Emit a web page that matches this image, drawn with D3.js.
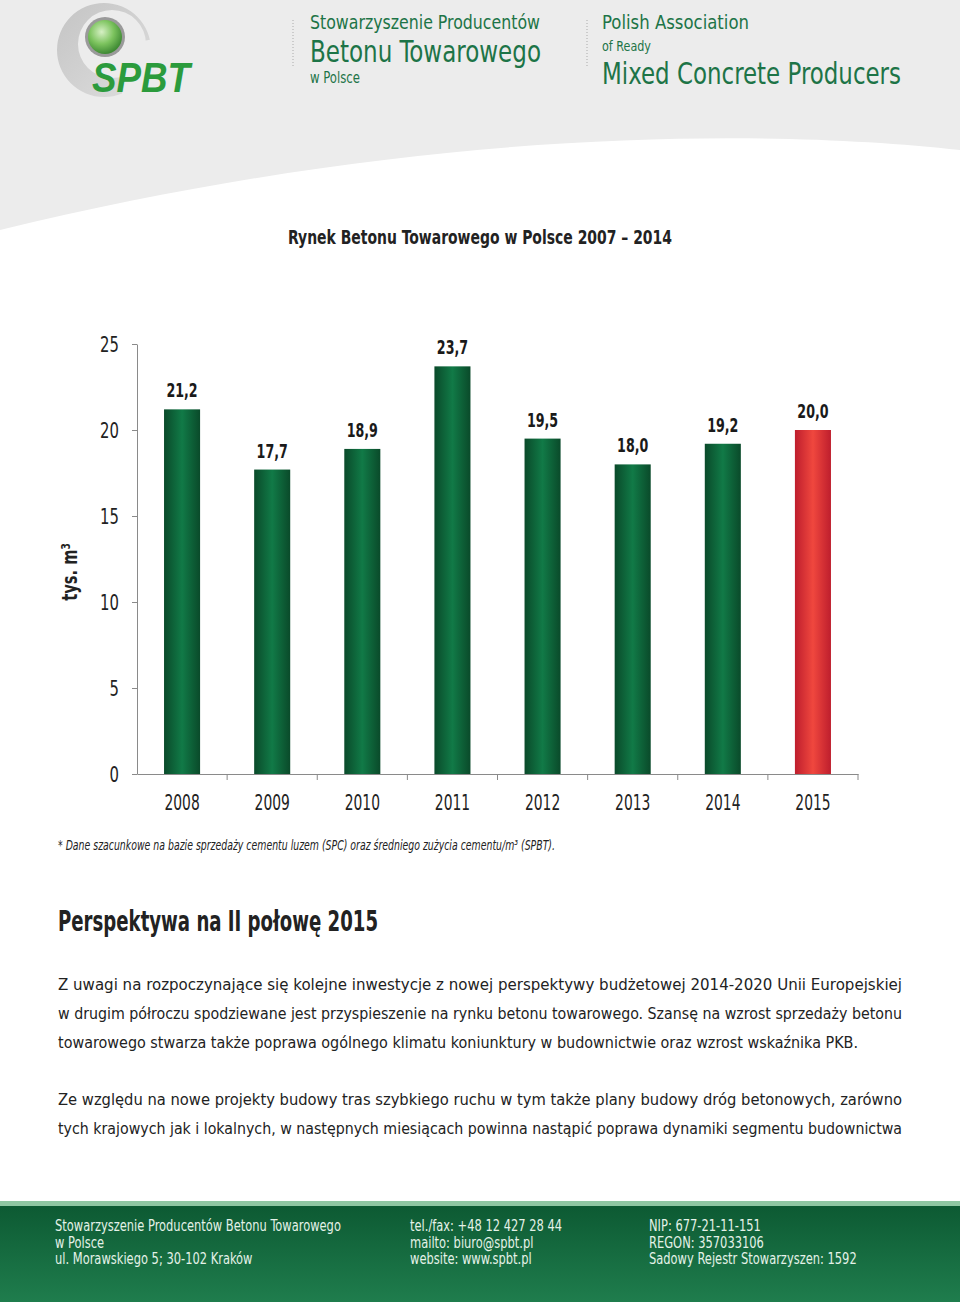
<!DOCTYPE html>
<html>
<head>
<meta charset="utf-8">
<script src="https://cdn.jsdelivr.net/npm/d3@7"></script>
<style>
body { margin: 0; background: #fff; }
text { font-family: 'Liberation Sans Narrow', 'DejaVu Sans Condensed', sans-serif; }
</style>
</head>
<body>
<div id="main"></div>
<script>
// chart data
var years = ["2008", "2009", "2010", "2011", "2012", "2013", "2014", "2015"];
var values = [21.2, 17.7, 18.9, 23.7, 19.5, 18.0, 19.2, 20.0];
var estimated = [false, false, false, false, false, false, false, true];
var yTicks = [0, 5, 10, 15, 20, 25];

var paragraph1 = [
    "Z uwagi na rozpoczynające się kolejne inwestycje z nowej perspektywy budżetowej 2014-2020 Unii Europejskiej",
    "w drugim półroczu spodziewane jest przyspieszenie na rynku betonu towarowego. Szansę na wzrost sprzedaży betonu",
    "towarowego stwarza także poprawa ogólnego klimatu koniunktury w budownictwie oraz wzrost wskaźnika PKB."
];
var paragraph2 = [
    "Ze względu na nowe projekty budowy tras szybkiego ruchu w tym także plany budowy dróg betonowych, zarówno",
    "tych krajowych jak i lokalnych, w następnych miesiącach powinna nastąpić poprawa dynamiki segmentu budownictwa"
];
var footer = [
    ["Stowarzyszenie Producentów Betonu Towarowego", "w Polsce", "ul. Morawskiego 5; 30-102 Kraków"],
    ["tel./fax: +48 12 427 28 44", "mailto: biuro@spbt.pl", "website: www.spbt.pl"],
    ["NIP: 677-21-11-151", "REGON: 357033106", "Sadowy Rejestr Stowarzyszen: 1592"]
];

var w = 960;
var h = 1302;

var svg = d3.select("#main")
    .append("svg")
    .attr("width", w)
    .attr("height", h);

var defs = svg.append("defs");

// narrow the installed font a bit so it reads like the condensed original
function squeeze(sel, f) {
    sel.each(function() {
        var n = this.getComputedTextLength();
        d3.select(this).attr("textLength", n * f).attr("lengthAdjust", "spacingAndGlyphs");
    });
}

function hGrad(id, edge, mid) {
    var g = defs.append("linearGradient").attr("id", id)
        .attr("x1", "0%").attr("x2", "100%").attr("y1", "0%").attr("y2", "0%");
    g.append("stop").attr("offset", "0%").attr("stop-color", edge);
    g.append("stop").attr("offset", "50%").attr("stop-color", mid);
    g.append("stop").attr("offset", "100%").attr("stop-color", edge);
}
hGrad("barGreen", "#0a4a2a", "#117a47");
hGrad("barRed", "#be1e2d", "#f0473e");

var fg = defs.append("linearGradient").attr("id", "footGrad")
    .attr("x1", "0%").attr("x2", "0%").attr("y1", "0%").attr("y2", "100%");
fg.append("stop").attr("offset", "0%").attr("stop-color", "#0d5a33");
fg.append("stop").attr("offset", "100%").attr("stop-color", "#1f7d4d");

var sg = defs.append("radialGradient").attr("id", "sphere")
    .attr("cx", "40%").attr("cy", "35%").attr("r", "65%");
sg.append("stop").attr("offset", "0%").attr("stop-color", "#d6f0c4");
sg.append("stop").attr("offset", "55%").attr("stop-color", "#7cc35e");
sg.append("stop").attr("offset", "100%").attr("stop-color", "#3f8a34");

var cg = defs.append("linearGradient").attr("id", "crescent")
    .attr("x1", "0%").attr("x2", "100%").attr("y1", "0%").attr("y2", "100%");
cg.append("stop").attr("offset", "0%").attr("stop-color", "#c4c4c4");
cg.append("stop").attr("offset", "100%").attr("stop-color", "#dedede");

defs.append("clipPath").attr("id", "crescentClip")
    .append("path")
    .attr("d", "M0,0 H200 V30 L128,44 L120,110 H0 Z");

// header background with curved lower edge
svg.append("path")
    .attr("d", "M0,0 H960 V150 C760,128 420,128 0,230 Z")
    .attr("fill", "#ececec");

// logo
svg.append("path")
    .attr("d", "M57,50 a47,47 0 1,0 94,0 a47,47 0 1,0 -94,0 Z M78,44 a34,34 0 1,0 68,0 a34,34 0 1,0 -68,0 Z")
    .attr("fill-rule", "evenodd")
    .attr("fill", "url(#crescent)")
    .attr("clip-path", "url(#crescentClip)");
svg.append("circle").attr("cx", 105).attr("cy", 37).attr("r", 20).attr("fill", "#9a9a9a");
svg.append("circle").attr("cx", 105).attr("cy", 37).attr("r", 17).attr("fill", "url(#sphere)");
svg.append("text")
    .attr("x", 92).attr("y", 92)
    .attr("textLength", 98).attr("lengthAdjust", "spacingAndGlyphs")
    .style("font-family", "'Liberation Sans', sans-serif")
    .style("font-weight", "bold").style("font-style", "italic")
    .style("font-size", "42px").attr("fill", "#2b9b3c")
    .text("SPBT");

// header texts
[293, 587].forEach(function(x) {
    svg.append("line").attr("x1", x).attr("x2", x).attr("y1", 20).attr("y2", 66)
        .attr("stroke", "#aaa").attr("stroke-dasharray", "1,2");
});
var headTexts = [
    {t: "Stowarzyszenie Producentów", x: 310, y: 29, s: 20, l: 230},
    {t: "Betonu Towarowego", x: 310, y: 62, s: 30, l: 231},
    {t: "w Polsce", x: 310, y: 83, s: 15, l: 50},
    {t: "Polish Association", x: 602, y: 29, s: 20, l: 147},
    {t: "of Ready", x: 602, y: 51, s: 14, l: 49},
    {t: "Mixed Concrete Producers", x: 602, y: 84, s: 30, l: 299}
];
svg.selectAll(".head")
    .data(headTexts)
    .enter()
    .append("text")
    .attr("class", "head")
    .attr("x", function(d) { return d.x; })
    .attr("y", function(d) { return d.y; })
    .attr("textLength", function(d) { return d.l; })
    .attr("lengthAdjust", "spacingAndGlyphs")
    .style("font-size", function(d) { return d.s + "px"; })
    .attr("fill", "#1d7447")
    .text(function(d) { return d.t; });

// chart title
svg.append("text")
    .attr("x", 288).attr("y", 244)
    .attr("textLength", 384).attr("lengthAdjust", "spacingAndGlyphs")
    .style("font-size", "20px").style("font-weight", "bold")
    .attr("fill", "#222")
    .text("Rynek Betonu  Towarowego w Polsce 2007 – 2014");

// scales
var x = d3.scaleBand()
    .domain(years)
    .range([137, 858])
    .padding(0);

var y = d3.scaleLinear()
    .domain([0, 25])
    .range([774, 344]);

var barW = x.bandwidth() * 0.4;
var fmt = function(v) { return d3.format(".1f")(v).replace(".", ","); };

// bars
svg.selectAll(".bar")
    .data(values)
    .enter()
    .append("rect")
    .attr("class", "bar")
    .attr("x", function(d, i) { return x(years[i]) + (x.bandwidth() - barW) / 2; })
    .attr("y", function(d) { return y(d); })
    .attr("width", barW)
    .attr("height", function(d) { return y(0) - y(d); })
    .attr("fill", function(d, i) { return estimated[i] ? "url(#barRed)" : "url(#barGreen)"; });

// value labels
var vals = svg.selectAll(".val")
    .data(values)
    .enter()
    .append("text")
    .attr("class", "val")
    .attr("x", function(d, i) { return x(years[i]) + x.bandwidth() / 2; })
    .attr("y", function(d) { return y(d) - 12; })
    .attr("text-anchor", "middle")
    .style("font-size", "19px").style("font-weight", "bold")
    .attr("fill", "#1a1a1a")
    .text(function(d) { return fmt(d); });
squeeze(vals, 0.74);

// y axis
var yAxis = svg.append("g")
    .attr("transform", "translate(137,0)")
    .call(d3.axisLeft(y).tickValues(yTicks).tickSize(5).tickSizeOuter(0).tickPadding(13));
yAxis.selectAll("text").style("font-size", "22px").attr("fill", "#222");
squeeze(yAxis.selectAll("text"), 0.75);

// x axis: labels centred, ticks on the band borders
var xAxis = svg.append("g")
    .attr("transform", "translate(0,774)")
    .call(d3.axisBottom(x).tickSize(0).tickSizeOuter(0).tickPadding(20));
xAxis.selectAll("text").style("font-size", "22px").attr("fill", "#222");
squeeze(xAxis.selectAll("text"), 0.7);
svg.selectAll(".xtick")
    .data(years.slice(1).map(function(d) { return x(d); }).concat([x.range()[1]]))
    .enter()
    .append("line")
    .attr("class", "xtick")
    .attr("x1", function(d) { return d; }).attr("x2", function(d) { return d; })
    .attr("y1", 774).attr("y2", 780);
svg.selectAll(".domain, .tick line, .xtick").attr("stroke", "#8a8a8a");

// y axis title
var yTitle = svg.append("text")
    .attr("transform", "translate(77,572) rotate(-90)")
    .attr("text-anchor", "middle")
    .style("font-size", "22px").style("font-weight", "bold")
    .attr("fill", "#222")
    .text("tys. m³");
squeeze(yTitle, 0.74);

// footnote
svg.append("text")
    .attr("x", 58).attr("y", 850)
    .attr("textLength", 497).attr("lengthAdjust", "spacingAndGlyphs")
    .style("font-size", "14px").style("font-style", "italic")
    .attr("fill", "#222")
    .text("* Dane szacunkowe na bazie sprzedaży cementu luzem (SPC) oraz średniego zużycia cementu/m³ (SPBT).");

// section heading
svg.append("text")
    .attr("x", 58).attr("y", 931)
    .attr("textLength", 320).attr("lengthAdjust", "spacingAndGlyphs")
    .style("font-size", "28px").style("font-weight", "bold")
    .attr("fill", "#222")
    .text("Perspektywa na II połowę 2015");

// body paragraphs
function para(lines, top, lens) {
    svg.selectAll(null)
        .data(lines)
        .enter()
        .append("text")
        .attr("x", 58)
        .attr("y", function(d, i) { return top + i * 29; })
        .attr("textLength", function(d, i) { return lens[i]; })
        .attr("lengthAdjust", "spacingAndGlyphs")
        .style("font-size", "16.5px")
        .attr("fill", "#222")
        .text(function(d) { return d; });
}
para(paragraph1, 990, [844, 844, 800]);
para(paragraph2, 1105, [844, 844]);

// footer
svg.append("rect").attr("x", 0).attr("y", 1201).attr("width", w).attr("height", 6).attr("fill", "#8fc6a2");
svg.append("rect").attr("x", 0).attr("y", 1206).attr("width", w).attr("height", h - 1206).attr("fill", "url(#footGrad)");
var colX = [55, 410, 649];
footer.forEach(function(col, c) {
    var t = svg.selectAll(null)
        .data(col)
        .enter()
        .append("text")
        .attr("x", colX[c])
        .attr("y", function(d, i) { return 1231 + i * 16.5; })
        .style("font-size", "15px")
        .attr("fill", "#e4f2e8")
        .text(function(d) { return d; });
    squeeze(t, 0.85);
});
</script>
</body>
</html>
